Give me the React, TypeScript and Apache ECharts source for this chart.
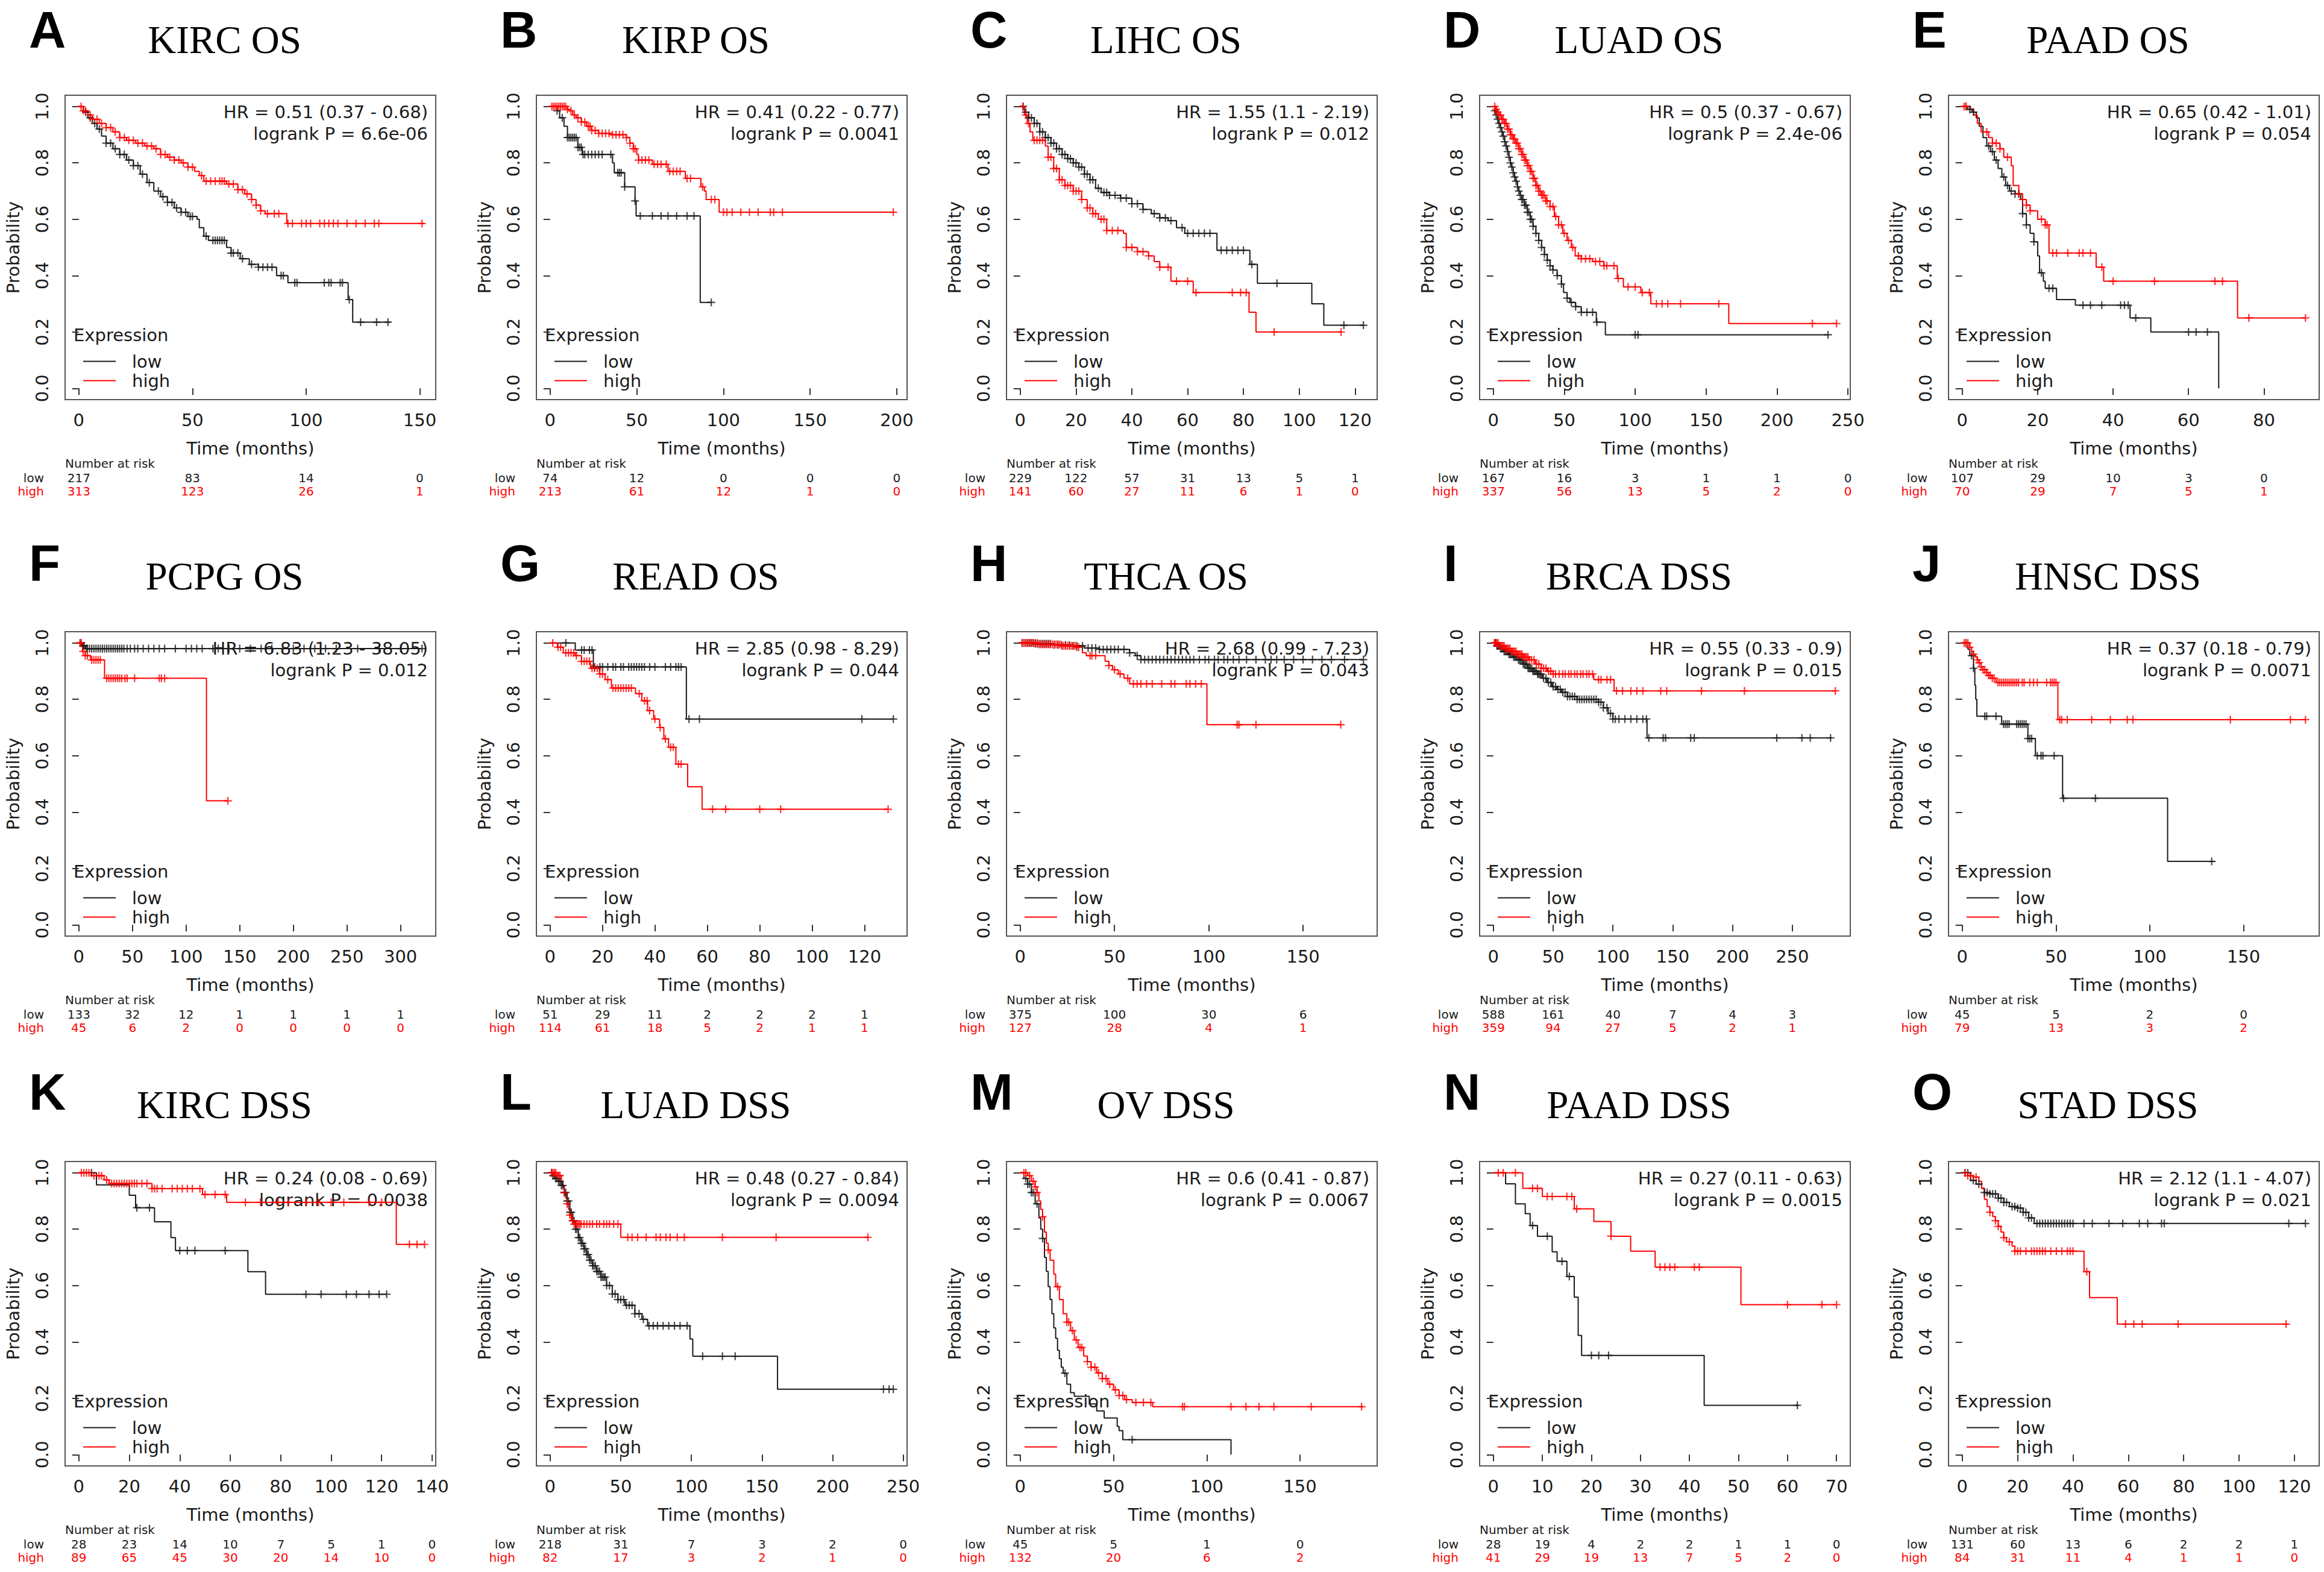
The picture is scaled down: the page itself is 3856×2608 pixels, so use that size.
import React, { useEffect, useRef } from 'react';
import * as echarts from 'echarts';

// ---------------- panel texts ----------------
const TITLES = ['KIRC OS', 'KIRP OS', 'LIHC OS', 'LUAD OS', 'PAAD OS', 'PCPG OS', 'READ OS', 'THCA OS', 'BRCA DSS', 'HNSC DSS', 'KIRC DSS', 'LUAD DSS', 'OV DSS', 'PAAD DSS', 'STAD DSS'];
const LETTERS = ['A', 'B', 'C', 'D', 'E', 'F', 'G', 'H', 'I', 'J', 'K', 'L', 'M', 'N', 'O'];
const HR_TEXT = ['HR = 0.51 (0.37 - 0.68)', 'HR = 0.41 (0.22 - 0.77)', 'HR = 1.55 (1.1 - 2.19)', 'HR = 0.5 (0.37 - 0.67)', 'HR = 0.65 (0.42 - 1.01)', 'HR = 6.83 (1.23 - 38.05)', 'HR = 2.85 (0.98 - 8.29)', 'HR = 2.68 (0.99 - 7.23)', 'HR = 0.55 (0.33 - 0.9)', 'HR = 0.37 (0.18 - 0.79)', 'HR = 0.24 (0.08 - 0.69)', 'HR = 0.48 (0.27 - 0.84)', 'HR = 0.6 (0.41 - 0.87)', 'HR = 0.27 (0.11 - 0.63)', 'HR = 2.12 (1.1 - 4.07)'];
const P_TEXT = ['logrank P = 6.6e-06', 'logrank P = 0.0041', 'logrank P = 0.012', 'logrank P = 2.4e-06', 'logrank P = 0.054', 'logrank P = 0.012', 'logrank P = 0.044', 'logrank P = 0.043', 'logrank P = 0.015', 'logrank P = 0.0071', 'logrank P = 0.0038', 'logrank P = 0.0094', 'logrank P = 0.0067', 'logrank P = 0.0015', 'logrank P = 0.021'];
// maximum follow-up (months) per panel
const X_MAX = [151, 198, 123, 242, 91, 320, 131, 182, 287, 183, 136, 243, 184, 70, 124];
const Y_TICKS = [0, 0.2, 0.4, 0.6, 0.8, 1.0];

// ---------------- tick labels ----------------
const A_TICKS = [0, 50, 100, 150];
const B_TICKS = [0, 50, 100, 150, 200];
const C_TICKS = [0, 20, 40, 60, 80, 100, 120];
const D_TICKS = [0, 50, 100, 150, 200, 250];
const E_TICKS = [0, 20, 40, 60, 80];
const F_TICKS = [0, 50, 100, 150, 200, 250, 300];
const G_TICKS = [0, 20, 40, 60, 80, 100, 120];
const H_TICKS = [0, 50, 100, 150];
const I_TICKS = [0, 50, 100, 150, 200, 250];
const J_TICKS = [0, 50, 100, 150];
const K_TICKS = [0, 20, 40, 60, 80, 100, 120, 140];
const L_TICKS = [0, 50, 100, 150, 200, 250];
const M_TICKS = [0, 50, 100, 150];
const N_TICKS = [0, 10, 20, 30, 40, 50, 60, 70];
const O_TICKS = [0, 20, 40, 60, 80, 100, 120];

// ---------------- number at risk ----------------
const A_RISK_LOW = [217, 83, 14, 0];
const A_RISK_HIGH = [313, 123, 26, 1];
const B_RISK_LOW = [74, 12, 0, 0, 0];
const B_RISK_HIGH = [213, 61, 12, 1, 0];
const C_RISK_LOW = [229, 122, 57, 31, 13, 5, 1];
const C_RISK_HIGH = [141, 60, 27, 11, 6, 1, 0];
const D_RISK_LOW = [167, 16, 3, 1, 1, 0];
const D_RISK_HIGH = [337, 56, 13, 5, 2, 0];
const E_RISK_LOW = [107, 29, 10, 3, 0];
const E_RISK_HIGH = [70, 29, 7, 5, 1];
const F_RISK_LOW = [133, 32, 12, 1, 1, 1, 1];
const F_RISK_HIGH = [45, 6, 2, 0, 0, 0, 0];
const G_RISK_LOW = [51, 29, 11, 2, 2, 2, 1];
const G_RISK_HIGH = [114, 61, 18, 5, 2, 1, 1];
const H_RISK_LOW = [375, 100, 30, 6];
const H_RISK_HIGH = [127, 28, 4, 1];
const I_RISK_LOW = [588, 161, 40, 7, 4, 3];
const I_RISK_HIGH = [359, 94, 27, 5, 2, 1];
const J_RISK_LOW = [45, 5, 2, 0];
const J_RISK_HIGH = [79, 13, 3, 2];
const K_RISK_LOW = [28, 23, 14, 10, 7, 5, 1, 0];
const K_RISK_HIGH = [89, 65, 45, 30, 20, 14, 10, 0];
const L_RISK_LOW = [218, 31, 7, 3, 2, 0];
const L_RISK_HIGH = [82, 17, 3, 2, 1, 0];
const M_RISK_LOW = [45, 5, 1, 0];
const M_RISK_HIGH = [132, 20, 6, 2];
const N_RISK_LOW = [28, 19, 4, 2, 2, 1, 1, 0];
const N_RISK_HIGH = [41, 29, 19, 13, 7, 5, 2, 0];
const O_RISK_LOW = [131, 60, 13, 6, 2, 2, 1];
const O_RISK_HIGH = [84, 31, 11, 4, 1, 1, 0];

// ---------------- survival steps [time, probability] ----------------
const A_LOW = [[0, 1], [2, 0.98], [4, 0.96], [6, 0.94], [8, 0.92], [10, 0.895], [12, 0.87], [15, 0.85], [18, 0.83], [21, 0.81], [24, 0.79], [27, 0.76], [30, 0.73], [33, 0.7], [36, 0.68], [39, 0.66], [42, 0.64], [45, 0.625], [48, 0.61], [52, 0.6], [53, 0.57], [55, 0.54], [57, 0.525], [65, 0.5], [67, 0.48], [71, 0.46], [75, 0.44], [79, 0.43], [87, 0.4], [92, 0.375], [118.5, 0.315], [120.5, 0.235], [137, 0.235]];
const A_HIGH = [[0, 1], [2, 0.985], [4, 0.97], [6, 0.955], [9, 0.94], [12, 0.925], [15, 0.91], [18, 0.89], [21, 0.88], [25, 0.87], [29, 0.86], [33, 0.85], [36, 0.83], [39, 0.82], [42, 0.81], [45, 0.8], [48, 0.785], [51, 0.77], [53, 0.755], [55, 0.735], [65, 0.725], [70, 0.705], [73, 0.69], [76, 0.67], [78, 0.65], [80, 0.63], [82, 0.62], [91.5, 0.585], [152, 0.585]];
const A_LOW_CENS = [3, 5, 7, 9, 12, 14, 16, 18, 20, 22, 24, 26, 28, 31, 35, 37, 39, 41, 43, 45, 47, 49, 50, 56, 59, 60, 61, 62, 63, 64, 67, 68, 70, 72, 76, 79, 81, 83, 85, 89, 90, 95, 96, 108, 110, 111, 115, 116, 119, 124, 131, 136];
const A_HIGH_CENS = [1, 2, 3, 5, 6, 8, 10, 12, 14, 16, 18, 20, 22, 24, 26, 28, 30, 32, 34, 36, 38, 40, 42, 44, 46, 48, 50, 54, 56, 58, 60, 62, 63, 64, 66, 68, 70, 72, 74, 76, 78, 80, 83, 86, 88, 92, 94, 98, 100, 102, 106, 108, 110, 112, 114, 118, 122, 126, 130, 132, 151];

const B_LOW = [[0, 1], [4, 0.985], [5.5, 0.96], [8, 0.93], [10, 0.89], [16, 0.855], [18.5, 0.83], [36, 0.8], [37, 0.765], [43, 0.715], [49, 0.665], [49.6, 0.612], [86.6, 0.305], [93, 0.305]];
const B_HIGH = [[0, 1], [10, 0.99], [11, 0.985], [13, 0.97], [15, 0.96], [18, 0.945], [21, 0.93], [24, 0.915], [28, 0.905], [35, 0.9], [44, 0.89], [46, 0.87], [48, 0.85], [50, 0.83], [51, 0.81], [59, 0.795], [68, 0.77], [78, 0.745], [87, 0.715], [89, 0.7], [90, 0.67], [97.5, 0.625], [198, 0.625]];
const B_LOW_CENS = [4, 7, 10, 11, 12, 13, 14, 15, 16, 17, 18, 19, 20, 22, 24, 26, 28, 30, 35, 39, 40, 41, 43, 49, 52, 59, 64, 68, 73, 79, 83, 93];
const B_HIGH_CENS = [1, 2, 3, 4, 5, 6, 7, 8, 9, 10, 12, 14, 16, 18, 20, 22, 23, 24, 26, 28, 30, 32, 34, 36, 38, 40, 42, 44, 46, 48, 49, 51, 53, 55, 57, 60, 62, 64, 67, 69, 71, 73, 75, 79, 81, 88, 93, 95, 100, 102, 105, 110, 115, 120, 127, 129, 134, 198];

const C_LOW = [[0, 1], [1.5, 0.98], [3, 0.96], [5, 0.94], [7, 0.91], [9, 0.89], [11, 0.87], [13, 0.85], [15, 0.83], [17, 0.815], [19, 0.8], [21, 0.785], [23, 0.76], [25, 0.74], [27, 0.71], [29, 0.695], [32, 0.685], [36, 0.675], [40, 0.655], [44, 0.635], [47, 0.62], [50, 0.605], [53, 0.595], [56, 0.57], [59, 0.55], [70.5, 0.49], [82.3, 0.44], [85, 0.373], [104.5, 0.3], [108.8, 0.224], [123, 0.224]];
const C_HIGH = [[0, 1], [1.5, 0.97], [2.5, 0.94], [3.5, 0.91], [4.5, 0.88], [9, 0.86], [10, 0.82], [12, 0.78], [14, 0.74], [16, 0.72], [19, 0.7], [22, 0.67], [24, 0.64], [26, 0.62], [28, 0.6], [31, 0.56], [37, 0.55], [38, 0.5], [42, 0.485], [46, 0.47], [48, 0.45], [50, 0.43], [54, 0.38], [62, 0.34], [82, 0.27], [84.5, 0.2], [115, 0.2]];
const C_LOW_CENS = [1, 2, 3, 4, 5, 6, 7, 8, 9, 10, 11, 12, 13, 14, 15, 16, 17, 18, 19, 20, 21, 22, 23, 24, 25, 26, 28, 30, 31, 32, 34, 36, 38, 40, 42, 44, 48, 50, 52, 54, 58, 60, 62, 64, 66, 68, 72, 74, 76, 78, 80, 83, 92, 116, 123];
const C_HIGH_CENS = [1, 2, 3, 5, 6, 7, 8, 10, 11, 12, 13, 14, 15, 16, 17, 18, 19, 20, 21, 22, 24, 25, 26, 27, 29, 30, 31, 33, 35, 38, 40, 42, 44, 46, 50, 53, 56, 60, 63, 76, 79, 81, 91, 115];

const D_LOW = [[0, 1], [1, 0.985], [2, 0.97], [3, 0.955], [4, 0.94], [5, 0.925], [6, 0.91], [7, 0.895], [8, 0.875], [9, 0.86], [10, 0.84], [11, 0.82], [12, 0.8], [13, 0.785], [14, 0.765], [15, 0.75], [16, 0.735], [17, 0.715], [18, 0.7], [19, 0.685], [20, 0.67], [22, 0.65], [24, 0.625], [26, 0.6], [28, 0.575], [30, 0.55], [32, 0.525], [34, 0.5], [36, 0.475], [38, 0.455], [40, 0.435], [42, 0.42], [45, 0.4], [48, 0.37], [49.5, 0.34], [52, 0.32], [54, 0.305], [58, 0.29], [62, 0.27], [72.6, 0.235], [79, 0.19], [236, 0.19]];
const D_HIGH = [[0, 1], [2, 0.99], [3, 0.98], [4, 0.97], [6, 0.955], [8, 0.94], [10, 0.92], [12, 0.9], [14, 0.885], [16, 0.87], [18, 0.85], [20, 0.83], [22, 0.81], [24, 0.79], [26, 0.77], [28, 0.745], [30, 0.72], [32, 0.7], [34, 0.685], [37, 0.665], [40, 0.645], [43, 0.61], [46, 0.58], [49, 0.55], [52, 0.525], [55, 0.5], [57.7, 0.47], [62, 0.46], [70, 0.45], [78, 0.435], [87.4, 0.39], [91.7, 0.36], [104, 0.34], [111, 0.3], [166, 0.23], [242, 0.23]];
const D_LOW_CENS = [1, 2, 3, 4, 5, 6, 7, 8, 9, 10, 11, 12, 13, 14, 15, 16, 17, 18, 19, 20, 21, 22, 23, 24, 25, 26, 27, 28, 30, 32, 34, 36, 38, 40, 42, 45, 48, 52, 55, 58, 62, 66, 70, 73, 100, 102, 236];
const D_HIGH_CENS = [1, 2, 3, 4, 5, 6, 7, 8, 9, 10, 11, 12, 13, 14, 15, 16, 17, 18, 19, 20, 21, 22, 23, 24, 25, 26, 27, 28, 29, 30, 31, 32, 33, 34, 35, 36, 37, 38, 40, 42, 44, 46, 48, 50, 53, 56, 60, 62, 65, 68, 72, 75, 78, 80, 85, 88, 95, 100, 105, 110, 115, 119, 123, 132, 159, 225, 242];

const E_LOW = [[0, 1], [1.4, 0.99], [2.6, 0.98], [3.7, 0.96], [4.5, 0.93], [5.5, 0.89], [6.5, 0.86], [7.5, 0.84], [8.5, 0.81], [9.5, 0.78], [10.5, 0.75], [11.5, 0.72], [12.5, 0.7], [14, 0.69], [15.5, 0.67], [16, 0.62], [17, 0.58], [18, 0.55], [19, 0.52], [20, 0.47], [20.5, 0.41], [21.5, 0.38], [22, 0.355], [25, 0.315], [30, 0.295], [44.5, 0.25], [50, 0.2], [68, 0]];
const E_HIGH = [[0, 1], [2.2, 0.99], [3, 0.97], [4, 0.94], [5, 0.91], [7, 0.89], [8, 0.87], [10, 0.85], [11, 0.82], [13, 0.79], [13.5, 0.72], [15, 0.69], [16, 0.67], [17, 0.65], [18, 0.63], [20, 0.6], [22, 0.58], [23, 0.48], [35.5, 0.43], [37.5, 0.38], [73, 0.25], [91, 0.25]];
const E_LOW_CENS = [1, 2, 3, 7, 8, 9, 11, 12, 13, 14, 15, 16, 17, 19, 21, 23, 24, 32, 34, 37, 42, 43, 44, 46, 60, 62, 65];
const E_HIGH_CENS = [0.5, 1, 6.5, 8, 9, 10, 12, 15, 16, 17, 18, 21, 22, 22.5, 24, 25, 28, 31, 32, 34, 37, 40, 51, 67, 69, 76, 91];

const F_LOW = [[0, 1], [3, 0.99], [6, 0.98], [320, 0.98]];
const F_HIGH = [[0, 1], [3.4, 0.97], [6, 0.955], [11, 0.94], [24, 0.875], [119, 0.44], [139, 0.44]];
const F_LOW_CENS = [2, 4, 5, 7, 8, 10, 12, 14, 16, 18, 20, 22, 24, 26, 28, 30, 32, 34, 36, 38, 40, 42, 45, 48, 52, 55, 60, 65, 70, 75, 80, 90, 100, 105, 110, 115, 125, 130, 140, 150, 160, 170, 180, 190, 200, 210, 220, 230, 240, 260, 280, 300, 320];
const F_HIGH_CENS = [1, 2, 4, 6, 8, 12, 14, 16, 18, 20, 26, 28, 30, 32, 34, 36, 38, 40, 43, 45, 52, 75, 77, 80, 139];

const G_LOW = [[0, 1], [9.6, 0.975], [16.5, 0.915], [52, 0.73], [131, 0.73]];
const G_HIGH = [[0, 1], [2.8, 0.985], [5, 0.965], [9.6, 0.955], [12, 0.935], [15.4, 0.91], [18.8, 0.89], [21, 0.87], [23.4, 0.84], [32.6, 0.82], [35, 0.795], [37.2, 0.76], [39.5, 0.73], [41.8, 0.7], [43.4, 0.66], [45.2, 0.63], [48, 0.57], [52.5, 0.49], [58, 0.41], [129, 0.41]];
const G_LOW_CENS = [6, 12, 13, 15, 16, 17, 19, 20, 22, 24, 25, 27, 28, 30, 31, 32, 33, 34, 35, 36, 38, 40, 44, 46, 48, 49, 50, 53, 57, 119, 131];
const G_HIGH_CENS = [1, 3, 4, 6, 7, 8, 9, 10, 12, 13, 14, 15, 16, 17, 18, 19, 20, 22, 24, 25, 26, 27, 28, 29, 30, 31, 34, 36, 37, 38, 40, 42, 44, 46, 47, 49, 50, 62, 67, 80, 88, 129];

const H_LOW = [[0, 1], [8, 0.997], [18, 0.993], [28, 0.99], [34, 0.982], [42, 0.977], [58, 0.965], [61, 0.955], [64, 0.941], [182, 0.941]];
const H_HIGH = [[0, 1], [10, 0.995], [22, 0.99], [30, 0.985], [33, 0.965], [35, 0.955], [45, 0.935], [47, 0.92], [49, 0.905], [52, 0.89], [55, 0.875], [58, 0.855], [99, 0.71], [170, 0.71]];
const H_LOW_CENS = [1, 2, 3, 4, 5, 6, 7, 8, 9, 10, 11, 12, 13, 14, 15, 16, 18, 20, 22, 24, 26, 28, 30, 33, 36, 38, 40, 42, 44, 46, 48, 50, 52, 55, 58, 62, 64, 66, 68, 70, 72, 74, 76, 78, 80, 82, 84, 86, 88, 90, 92, 95, 98, 100, 103, 105, 108, 110, 113, 116, 120, 125, 130, 133, 136, 140, 145, 150, 155, 160, 165, 172, 182];
const H_HIGH_CENS = [1, 2, 3, 4, 5, 6, 7, 8, 9, 10, 11, 12, 13, 14, 15, 16, 17, 18, 19, 20, 21, 22, 23, 24, 25, 26, 27, 28, 29, 30, 31, 37, 38, 40, 47, 50, 53, 57, 60, 62, 64, 67, 70, 75, 80, 82, 88, 90, 93, 96, 115, 116, 125, 170];

const I_LOW = [[0, 1], [3, 0.99], [6, 0.98], [9, 0.97], [13, 0.96], [17, 0.95], [21, 0.94], [25, 0.925], [29, 0.91], [33, 0.9], [37, 0.89], [41, 0.875], [45, 0.86], [49, 0.845], [53, 0.835], [57, 0.825], [62, 0.81], [70, 0.8], [88, 0.79], [92, 0.77], [96, 0.75], [100, 0.73], [128.5, 0.663], [283, 0.663]];
const I_HIGH = [[0, 1], [5, 0.99], [10, 0.98], [15, 0.97], [20, 0.96], [25, 0.95], [30, 0.94], [35, 0.925], [40, 0.91], [45, 0.9], [50, 0.89], [84, 0.87], [101, 0.83], [286, 0.83]];
const I_LOW_CENS = [1, 2, 3, 4, 5, 6, 7, 8, 9, 10, 11, 12, 13, 14, 15, 16, 17, 18, 19, 20, 21, 22, 23, 24, 25, 26, 27, 28, 29, 30, 31, 32, 33, 34, 35, 36, 37, 38, 39, 40, 42, 44, 46, 48, 50, 52, 54, 56, 58, 60, 62, 64, 66, 68, 70, 72, 74, 76, 78, 80, 82, 84, 86, 88, 90, 92, 95, 98, 100, 102, 105, 110, 115, 120, 125, 128, 130, 142, 144, 165, 168, 237, 258, 265, 282];
const I_HIGH_CENS = [1, 2, 3, 4, 5, 6, 7, 8, 9, 10, 11, 12, 13, 14, 15, 16, 17, 18, 19, 20, 21, 22, 23, 24, 25, 26, 27, 28, 29, 30, 32, 34, 36, 38, 40, 42, 44, 46, 48, 50, 52, 55, 58, 60, 63, 65, 68, 70, 73, 75, 78, 80, 83, 88, 90, 95, 98, 103, 108, 115, 120, 125, 140, 145, 174, 210, 286];

const J_LOW = [[0, 1], [3, 0.978], [4, 0.955], [6, 0.91], [6.7, 0.85], [7.2, 0.8], [7.8, 0.74], [21, 0.712], [35, 0.661], [39, 0.6], [53.5, 0.449], [109.5, 0.225], [134.7, 0.225]];
const J_HIGH = [[0, 1], [4, 0.985], [5, 0.97], [6, 0.96], [7, 0.95], [8, 0.94], [9, 0.93], [10, 0.915], [11, 0.905], [13, 0.895], [14, 0.885], [16, 0.875], [18, 0.86], [51, 0.728], [183, 0.728]];
const J_LOW_CENS = [2, 5, 6, 12, 13, 18, 22, 23, 24, 25, 29, 30, 31, 32, 33, 34, 35, 36, 37, 40, 42, 43, 49, 54, 71, 133];
const J_HIGH_CENS = [1, 2, 3, 4, 6, 8, 9, 10, 11, 12, 13, 14, 15, 16, 17, 19, 20, 21, 22, 23, 24, 25, 26, 27, 28, 29, 30, 32, 33, 36, 38, 40, 45, 47, 48, 49, 50, 52, 53, 56, 69, 79, 88, 91, 143, 175, 183];

const K_LOW = [[0, 1], [7, 0.957], [20, 0.92], [22.5, 0.876], [30, 0.826], [36.5, 0.77], [38.3, 0.724], [67, 0.649], [74, 0.569], [122, 0.569]];
const K_HIGH = [[0, 1], [5, 0.99], [10, 0.975], [12, 0.962], [29, 0.944], [49, 0.923], [58.6, 0.895], [125.8, 0.746], [137, 0.746]];
const K_LOW_CENS = [5, 23, 28, 40, 43, 46, 58, 90, 96, 106, 110, 115, 119, 122];
const K_HIGH_CENS = [1, 2, 3, 4, 6, 8, 9, 11, 13, 14, 15, 16, 17, 18, 19, 20, 21, 22, 23, 25, 27, 29, 30, 31, 33, 37, 39, 41, 43, 45, 48, 50, 54, 58, 66, 72, 79, 83, 90, 95, 100, 105, 115, 120, 131, 134, 137];

const L_LOW = [[0, 1], [2, 0.99], [4, 0.98], [6, 0.97], [8, 0.955], [10, 0.93], [12, 0.9], [14, 0.86], [16, 0.83], [18, 0.8], [20, 0.77], [22, 0.75], [24, 0.73], [26, 0.71], [28, 0.69], [30, 0.67], [33, 0.65], [36, 0.63], [40, 0.6], [44, 0.57], [48, 0.55], [53, 0.53], [60, 0.5], [65, 0.48], [69, 0.457], [99, 0.41], [101, 0.349], [161, 0.232], [243, 0.232]];
const L_HIGH = [[0, 1], [5, 0.99], [8, 0.97], [9, 0.95], [10, 0.93], [11, 0.91], [12, 0.89], [13, 0.87], [14, 0.85], [15, 0.83], [17, 0.818], [50, 0.771], [225.5, 0.771]];
const L_LOW_CENS = [1, 2, 3, 4, 5, 6, 7, 8, 9, 10, 11, 12, 13, 14, 15, 16, 17, 18, 19, 20, 21, 22, 23, 24, 25, 26, 27, 28, 29, 30, 31, 32, 33, 34, 35, 36, 37, 38, 39, 40, 42, 44, 46, 48, 50, 52, 54, 56, 58, 60, 63, 66, 70, 73, 76, 80, 84, 88, 92, 97, 108, 122, 131, 236, 240, 243];
const L_HIGH_CENS = [1, 2, 3, 4, 6, 7, 10, 12, 14, 16, 17, 18, 19, 20, 21, 22, 24, 26, 28, 30, 33, 35, 38, 40, 42, 45, 48, 55, 58, 62, 68, 75, 78, 82, 85, 90, 95, 122, 160, 225];

const M_LOW = [[0, 1], [2, 0.98], [4, 0.96], [6, 0.93], [8, 0.89], [10, 0.84], [11, 0.8], [12, 0.767], [13, 0.7], [14, 0.65], [15, 0.596], [16, 0.55], [17, 0.5], [18, 0.45], [19, 0.413], [20, 0.37], [21, 0.34], [22, 0.31], [23, 0.289], [25, 0.25], [27, 0.22], [29, 0.207], [37, 0.18], [41, 0.155], [45, 0.13], [52, 0.1], [53, 0.085], [55, 0.053], [113, 0]];
const M_HIGH = [[0, 1], [4, 0.99], [6, 0.97], [8, 0.95], [9, 0.93], [10, 0.9], [11, 0.87], [12, 0.844], [13, 0.79], [14, 0.75], [15, 0.726], [16, 0.69], [18, 0.64], [19, 0.596], [21, 0.55], [23, 0.5], [25, 0.47], [27, 0.44], [29, 0.407], [31, 0.38], [34, 0.35], [36, 0.33], [38, 0.31], [41, 0.29], [44, 0.27], [47, 0.25], [50, 0.23], [53, 0.21], [56, 0.195], [60, 0.185], [71, 0.17], [183.7, 0.17]];
const M_LOW_CENS = [3, 4, 5, 6, 7, 9, 12, 24, 60];
const M_HIGH_CENS = [2, 3, 5, 7, 8, 9, 12, 15, 20, 25, 26, 28, 30, 32, 33, 36, 38, 40, 42, 44, 46, 48, 51, 53, 55, 57, 62, 66, 70, 87, 88, 113, 121, 128, 136, 156, 183];

const N_LOW = [[0, 1], [2.5, 0.961], [4.5, 0.89], [6.5, 0.855], [7.5, 0.813], [9, 0.775], [12, 0.72], [13, 0.686], [15, 0.632], [16.5, 0.559], [17.3, 0.423], [18, 0.352], [43, 0.175], [62.3, 0.175]];
const N_HIGH = [[0, 1], [6, 0.945], [10, 0.916], [16.5, 0.872], [20.5, 0.827], [24, 0.775], [28, 0.722], [33, 0.665], [50.5, 0.532], [70, 0.532]];
const N_LOW_CENS = [8, 11, 14, 15.5, 20, 21.5, 23.5, 62];
const N_HIGH_CENS = [1, 2, 4.5, 8, 9, 11, 12, 15, 16, 17, 24, 34, 35, 36, 37, 41, 42, 60, 67, 70];

const O_LOW = [[0, 1], [3, 0.973], [5, 0.96], [7, 0.945], [8, 0.93], [10, 0.925], [13, 0.91], [15, 0.895], [17, 0.88], [20, 0.875], [22, 0.86], [24, 0.84], [26, 0.82], [124, 0.82]];
const O_HIGH = [[0, 1], [2, 0.99], [4, 0.985], [6, 0.97], [7, 0.945], [8, 0.906], [9, 0.88], [10, 0.86], [11, 0.845], [12, 0.83], [13, 0.81], [14, 0.79], [15, 0.77], [16, 0.755], [18, 0.74], [19, 0.722], [44, 0.649], [46, 0.557], [56, 0.463], [117.4, 0.463]];
const O_LOW_CENS = [1, 2, 4, 6, 8, 9, 10, 11, 12, 13, 14, 15, 16, 18, 19, 20, 21, 22, 23, 24, 25, 27, 28, 29, 30, 31, 32, 33, 34, 35, 36, 37, 38, 39, 40, 44, 47, 53, 58, 64, 67, 72, 73, 118, 124];
const O_HIGH_CENS = [1, 2, 3, 5, 10, 12, 13, 15, 17, 19, 20, 21, 23, 25, 26, 27, 28, 29, 30, 32, 34, 36, 38, 39, 40, 45, 59, 62, 65, 78, 117];

const TICKS = [A_TICKS, B_TICKS, C_TICKS, D_TICKS, E_TICKS, F_TICKS, G_TICKS, H_TICKS, I_TICKS, J_TICKS, K_TICKS, L_TICKS, M_TICKS, N_TICKS, O_TICKS];
const RISK_LOW = [A_RISK_LOW, B_RISK_LOW, C_RISK_LOW, D_RISK_LOW, E_RISK_LOW, F_RISK_LOW, G_RISK_LOW, H_RISK_LOW, I_RISK_LOW, J_RISK_LOW, K_RISK_LOW, L_RISK_LOW, M_RISK_LOW, N_RISK_LOW, O_RISK_LOW];
const RISK_HIGH = [A_RISK_HIGH, B_RISK_HIGH, C_RISK_HIGH, D_RISK_HIGH, E_RISK_HIGH, F_RISK_HIGH, G_RISK_HIGH, H_RISK_HIGH, I_RISK_HIGH, J_RISK_HIGH, K_RISK_HIGH, L_RISK_HIGH, M_RISK_HIGH, N_RISK_HIGH, O_RISK_HIGH];
const LOWS = [A_LOW, B_LOW, C_LOW, D_LOW, E_LOW, F_LOW, G_LOW, H_LOW, I_LOW, J_LOW, K_LOW, L_LOW, M_LOW, N_LOW, O_LOW];
const HIGHS = [A_HIGH, B_HIGH, C_HIGH, D_HIGH, E_HIGH, F_HIGH, G_HIGH, H_HIGH, I_HIGH, J_HIGH, K_HIGH, L_HIGH, M_HIGH, N_HIGH, O_HIGH];
const LOW_CENS = [A_LOW_CENS, B_LOW_CENS, C_LOW_CENS, D_LOW_CENS, E_LOW_CENS, F_LOW_CENS, G_LOW_CENS, H_LOW_CENS, I_LOW_CENS, J_LOW_CENS, K_LOW_CENS, L_LOW_CENS, M_LOW_CENS, N_LOW_CENS, O_LOW_CENS];
const HIGH_CENS = [A_HIGH_CENS, B_HIGH_CENS, C_HIGH_CENS, D_HIGH_CENS, E_HIGH_CENS, F_HIGH_CENS, G_HIGH_CENS, H_HIGH_CENS, I_HIGH_CENS, J_HIGH_CENS, K_HIGH_CENS, L_HIGH_CENS, M_HIGH_CENS, N_HIGH_CENS, O_HIGH_CENS];

// ---------------- layout ----------------
const W = 3856;
const H = 2608;
const COL_LEFT = [108, 890, 1670, 2455, 3233];
const ROW_TOP = [158, 1048, 1927];
const BOX_W = 615;
const BOX_H = 505;
const LETTER_Y = [49, 934, 1811];
const TITLE_Y = [66, 956, 1833];
const SANS = 'DejaVu Sans';
const SERIF = 'Liberation Serif';
const BLACK = '#1a1a1a';
const RED = '#ff0000';
const PLUS = 'path://M5,0H7V5H12V7H7V12H5V7H0V5H5Z';

function valueAt(steps: number[][], t: number): number {
  let v = steps[0][1];
  for (const [x, y] of steps) {
    if (x <= t) v = y;
    else break;
  }
  return v;
}

function txt(x: number, y: number, text: string, size: number, color: string, align: string, family = SANS, weight = 'normal') {
  return {
    type: 'text',
    x,
    y,
    silent: true,
    style: {
      text,
      fill: color,
      fontSize: size,
      fontFamily: family,
      fontWeight: weight,
      align,
      verticalAlign: 'middle',
      textAlign: align,
      textVerticalAlign: 'middle',
    },
  };
}

function buildOption() {
  const grid: any[] = [];
  const xAxis: any[] = [];
  const yAxis: any[] = [];
  const series: any[] = [];
  const legend: any[] = [];
  const graphic: any[] = [];

  for (let i = 0; i < 15; i++) {
    const r = Math.floor(i / 5);
    const c = i % 5;
    const left = COL_LEFT[c];
    const top = ROW_TOP[r];
    const bottom = top + BOX_H;
    const right = left + BOX_W;
    const ticks = TICKS[i];
    const xmin = -0.04 * X_MAX[i];
    const xmax = 1.04 * X_MAX[i];

    grid.push({ left, top, width: BOX_W, height: BOX_H, show: true, borderColor: '#555', borderWidth: 2, backgroundColor: 'transparent' });

    xAxis.push({
      type: 'value', gridIndex: i, min: xmin, max: xmax, position: 'bottom',
      axisLine: { show: false }, splitLine: { show: false },
      axisTick: { show: true, customValues: ticks, length: 11, lineStyle: { color: '#333', width: 2 } },
      axisLabel: { show: true, customValues: ticks, margin: 19, fontSize: 29, fontFamily: SANS, color: BLACK },
      name: 'Time (months)', nameLocation: 'middle', nameGap: 66,
      nameTextStyle: { fontSize: 29, fontFamily: SANS, color: BLACK },
    });
    const riskRows: [number[], string, number][] = [[RISK_LOW[i], BLACK, 130], [RISK_HIGH[i], RED, 152]];
    riskRows.forEach(([vals, color, dy]) => {
      xAxis.push({
        type: 'value', gridIndex: i, min: xmin, max: xmax, position: 'bottom', offset: dy - 10,
        axisLine: { show: false }, axisTick: { show: false }, splitLine: { show: false },
        axisLabel: {
          show: true, customValues: ticks, margin: 0, fontSize: 20, fontFamily: SANS, color,
          formatter: (v: number) => {
            let k = ticks.indexOf(v);
            if (k < 0) k = ticks.findIndex((t) => Math.abs(t - v) < 1e-6);
            return k >= 0 ? String(vals[k]) : '';
          },
        },
      });
    });

    yAxis.push({
      type: 'value', gridIndex: i, min: -0.04, max: 1.04,
      axisLine: { show: false }, splitLine: { show: false },
      axisTick: { show: true, customValues: Y_TICKS, length: 11, lineStyle: { color: '#333', width: 2 } },
      axisLabel: { show: true, customValues: Y_TICKS, rotate: 90, margin: 24, fontSize: 29, fontFamily: SANS, color: BLACK, formatter: (v: number) => v.toFixed(1) },
      name: 'Probability', nameLocation: 'middle', nameGap: 72, nameRotate: 90,
      nameTextStyle: { fontSize: 29, fontFamily: SANS, color: BLACK },
    });

    const xi = 3 * i;
    series.push({
      type: 'line', name: 'low', xAxisIndex: xi, yAxisIndex: i, data: LOWS[i], step: 'end',
      symbol: 'none', showSymbol: false, color: BLACK, lineStyle: { color: BLACK, width: 2 }, silent: true, z: 2,
    });
    series.push({
      type: 'line', name: 'high', xAxisIndex: xi, yAxisIndex: i, data: HIGHS[i], step: 'end',
      symbol: 'none', showSymbol: false, color: RED, lineStyle: { color: RED, width: 2 }, silent: true, z: 3,
    });
    series.push({
      type: 'scatter', name: 'low censored', xAxisIndex: xi, yAxisIndex: i,
      data: LOW_CENS[i].map((t) => [t, valueAt(LOWS[i], t)]),
      symbol: PLUS, symbolSize: 13, itemStyle: { color: BLACK }, silent: true, z: 4,
    });
    series.push({
      type: 'scatter', name: 'high censored', xAxisIndex: xi, yAxisIndex: i,
      data: HIGH_CENS[i].map((t) => [t, valueAt(HIGHS[i], t)]),
      symbol: PLUS, symbolSize: 13, itemStyle: { color: RED }, silent: true, z: 5,
    });

    legend.push({
      left: left + 25, top: top + 422, orient: 'vertical', data: ['low', 'high'],
      icon: 'rect', itemWidth: 54, itemHeight: 2, itemGap: 3, selectedMode: false,
      textStyle: { fontSize: 29, fontFamily: SANS, color: BLACK, padding: [0, 0, 0, 22] },
    });

    graphic.push(txt(left - 60, LETTER_Y[r], LETTERS[i], 85, '#000', 'left', 'Liberation Sans', 'bold'));
    graphic.push(txt(left + BOX_W / 2 - 43, TITLE_Y[r], TITLES[i], 65, '#000', 'center', SERIF));
    graphic.push(txt(right - 13, top + 28, HR_TEXT[i], 29, BLACK, 'right'));
    graphic.push(txt(right - 13, top + 64, P_TEXT[i], 29, BLACK, 'right'));
    graphic.push(txt(left + 14, top + 398, 'Expression', 29, BLACK, 'left'));
    graphic.push(txt(left, bottom + 106, 'Number at risk', 20, BLACK, 'left'));
    graphic.push(txt(left - 35, bottom + 130, 'low', 20, BLACK, 'right'));
    graphic.push(txt(left - 35, bottom + 152, 'high', 20, RED, 'right'));
  }

  return {
    animation: false,
    backgroundColor: '#ffffff',
    textStyle: { fontFamily: SANS },
    grid,
    xAxis,
    yAxis,
    series,
    legend,
    graphic,
  };
}

export default function App() {
  const ref = useRef<HTMLDivElement>(null);
  useEffect(() => {
    document.body.style.margin = '0';
    if (!ref.current) return;
    const chart = echarts.init(ref.current, undefined, { renderer: 'svg', width: W, height: H });
    chart.setOption(buildOption() as any);
    return () => chart.dispose();
  }, []);
  return <div ref={ref} style={{ width: W, height: H, background: '#fff' }} />;
}
